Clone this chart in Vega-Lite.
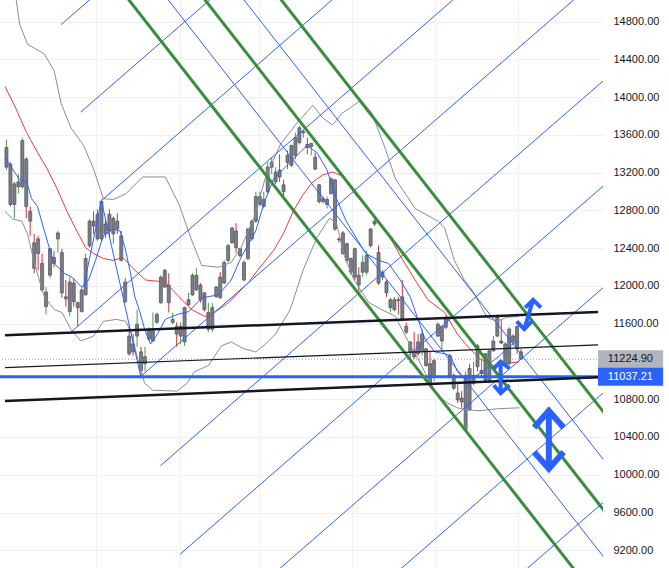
{
  "$schema": "https://vega.github.io/schema/vega-lite/v6.json",
  "width": 603,
  "height": 568,
  "autosize": "none",
  "padding": {"left": 0, "top": 0, "right": 66, "bottom": 0},
  "background": "white",
  "config": {"view": {"stroke": null}, "font": "Liberation Sans"},
  "datasets": {
    "candles": [
      {"i":0,"o":13259,"h":13551,"l":13228,"c":13468},
      {"i":1,"o":13291,"h":13311,"l":12843,"c":12864},
      {"i":2,"o":12864,"h":13103,"l":12718,"c":13082},
      {"i":3,"o":13051,"h":13186,"l":12978,"c":13103},
      {"i":4,"o":13051,"h":13572,"l":13030,"c":13540},
      {"i":5,"o":13343,"h":13364,"l":12718,"c":12843},
      {"i":6,"o":12791,"h":12843,"l":12531,"c":12687},
      {"i":7,"o":12458,"h":12552,"l":12135,"c":12187},
      {"i":8,"o":12499,"h":12531,"l":12167,"c":12343},
      {"i":9,"o":12239,"h":12343,"l":11937,"c":11958},
      {"i":10,"o":11781,"h":11989,"l":11698,"c":11937},
      {"i":11,"o":12114,"h":12406,"l":12083,"c":12395},
      {"i":12,"o":12302,"h":12375,"l":12198,"c":12239},
      {"i":13,"o":12499,"h":12583,"l":12354,"c":12562},
      {"i":14,"o":12354,"h":12395,"l":11875,"c":11927},
      {"i":15,"o":11885,"h":12063,"l":11781,"c":11864},
      {"i":16,"o":11729,"h":12094,"l":11677,"c":12042},
      {"i":17,"o":12031,"h":12083,"l":11781,"c":11833},
      {"i":18,"o":11823,"h":11833,"l":11573,"c":11771},
      {"i":19,"o":11729,"h":11989,"l":11719,"c":11958},
      {"i":20,"o":11906,"h":12343,"l":11900,"c":12291},
      {"i":21,"o":12427,"h":12708,"l":12406,"c":12687},
      {"i":22,"o":12687,"h":12791,"l":12552,"c":12635},
      {"i":23,"o":12760,"h":12812,"l":12479,"c":12499},
      {"i":24,"o":12499,"h":12916,"l":12479,"c":12895},
      {"i":25,"o":12656,"h":12708,"l":12510,"c":12552},
      {"i":26,"o":12760,"h":12812,"l":12510,"c":12583},
      {"i":27,"o":12552,"h":12739,"l":12447,"c":12718},
      {"i":28,"o":12687,"h":12770,"l":12552,"c":12604},
      {"i":29,"o":12531,"h":12583,"l":12260,"c":12271},
      {"i":30,"o":12042,"h":12083,"l":11823,"c":11833},
      {"i":31,"o":11469,"h":11573,"l":11261,"c":11282},
      {"i":32,"o":11386,"h":11490,"l":11261,"c":11302},
      {"i":33,"o":11469,"h":11750,"l":11355,"c":11594},
      {"i":34,"o":11302,"h":11355,"l":11021,"c":11105},
      {"i":35,"o":11177,"h":11355,"l":11094,"c":11250},
      {"i":36,"o":11438,"h":11563,"l":11420,"c":11542},
      {"i":37,"o":11417,"h":11719,"l":11405,"c":11521},
      {"i":38,"o":11615,"h":11719,"l":11600,"c":11698},
      {"i":39,"o":11823,"h":12114,"l":11810,"c":12094},
      {"i":40,"o":12167,"h":12180,"l":11979,"c":11989},
      {"i":41,"o":12010,"h":12135,"l":11719,"c":11823},
      {"i":42,"o":11615,"h":11719,"l":11594,"c":11646},
      {"i":43,"o":11573,"h":11615,"l":11355,"c":11490},
      {"i":44,"o":11469,"h":11615,"l":11386,"c":11573},
      {"i":45,"o":11407,"h":11781,"l":11365,"c":11771},
      {"i":46,"o":11802,"h":11927,"l":11790,"c":11854},
      {"i":47,"o":11906,"h":12135,"l":11895,"c":12114},
      {"i":48,"o":11958,"h":12187,"l":11950,"c":12114},
      {"i":49,"o":12010,"h":12031,"l":11823,"c":11854},
      {"i":50,"o":11927,"h":11935,"l":11729,"c":11750},
      {"i":51,"o":11542,"h":11823,"l":11511,"c":11719},
      {"i":52,"o":11542,"h":11823,"l":11511,"c":11771},
      {"i":53,"o":11885,"h":12000,"l":11875,"c":11989},
      {"i":54,"o":12094,"h":12146,"l":11865,"c":11875},
      {"i":55,"o":12031,"h":12271,"l":12020,"c":12250},
      {"i":56,"o":12271,"h":12447,"l":12250,"c":12427},
      {"i":57,"o":12458,"h":12625,"l":12447,"c":12614},
      {"i":58,"o":12583,"h":12666,"l":12354,"c":12406},
      {"i":59,"o":12395,"h":12406,"l":12302,"c":12323},
      {"i":60,"o":12250,"h":12271,"l":12050,"c":12063},
      {"i":61,"o":12291,"h":12614,"l":12271,"c":12604},
      {"i":62,"o":12499,"h":12708,"l":12479,"c":12687},
      {"i":63,"o":12687,"h":12999,"l":12666,"c":12947},
      {"i":64,"o":12864,"h":12999,"l":12843,"c":12947},
      {"i":65,"o":12843,"h":12999,"l":12822,"c":12916},
      {"i":66,"o":12999,"h":13311,"l":12978,"c":13259},
      {"i":67,"o":13259,"h":13364,"l":13186,"c":13311},
      {"i":68,"o":13103,"h":13259,"l":13082,"c":13207},
      {"i":69,"o":13228,"h":13395,"l":13103,"c":13155},
      {"i":70,"o":13072,"h":13124,"l":12947,"c":12999},
      {"i":71,"o":13311,"h":13436,"l":13239,"c":13384},
      {"i":72,"o":13280,"h":13499,"l":13259,"c":13488},
      {"i":73,"o":13384,"h":13624,"l":13343,"c":13572},
      {"i":74,"o":13520,"h":13697,"l":13499,"c":13676},
      {"i":75,"o":13624,"h":13655,"l":13572,"c":13634},
      {"i":76,"o":13499,"h":13572,"l":13395,"c":13468},
      {"i":77,"o":13478,"h":13520,"l":13384,"c":13509},
      {"i":78,"o":13364,"h":13416,"l":13228,"c":13239},
      {"i":79,"o":13072,"h":13080,"l":12874,"c":12895},
      {"i":80,"o":12926,"h":12947,"l":12874,"c":12895},
      {"i":81,"o":12864,"h":12947,"l":12822,"c":12916},
      {"i":82,"o":12978,"h":13155,"l":12970,"c":13134},
      {"i":83,"o":13124,"h":13134,"l":12583,"c":12604},
      {"i":84,"o":12499,"h":12510,"l":12458,"c":12489},
      {"i":85,"o":12562,"h":12583,"l":12335,"c":12343},
      {"i":86,"o":12447,"h":12458,"l":12250,"c":12271},
      {"i":87,"o":12146,"h":12302,"l":12114,"c":12291},
      {"i":88,"o":12395,"h":12406,"l":12063,"c":12094},
      {"i":89,"o":12114,"h":12198,"l":11927,"c":12010},
      {"i":90,"o":12146,"h":12323,"l":12094,"c":12250},
      {"i":91,"o":12146,"h":12375,"l":12114,"c":12323},
      {"i":92,"o":12427,"h":12614,"l":12406,"c":12604},
      {"i":93,"o":12656,"h":12708,"l":12635,"c":12687},
      {"i":94,"o":12354,"h":12427,"l":12010,"c":12031},
      {"i":95,"o":12094,"h":12167,"l":12063,"c":12146},
      {"i":96,"o":12042,"h":12063,"l":11885,"c":11927},
      {"i":97,"o":11771,"h":11875,"l":11719,"c":11854},
      {"i":98,"o":11750,"h":11885,"l":11729,"c":11854},
      {"i":99,"o":11854,"h":11885,"l":11698,"c":11844},
      {"i":100,"o":11885,"h":12063,"l":11625,"c":11646},
      {"i":101,"o":11573,"h":11615,"l":11490,"c":11511},
      {"i":102,"o":11302,"h":11410,"l":11177,"c":11407},
      {"i":103,"o":11313,"h":11511,"l":11229,"c":11250},
      {"i":104,"o":11407,"h":11490,"l":11261,"c":11282},
      {"i":105,"o":11302,"h":11542,"l":11261,"c":11490},
      {"i":106,"o":11334,"h":11340,"l":11146,"c":11157},
      {"i":107,"o":11177,"h":11313,"l":10960,"c":10969},
      {"i":108,"o":11053,"h":11229,"l":10990,"c":11209},
      {"i":109,"o":11469,"h":11615,"l":11460,"c":11594},
      {"i":110,"o":11417,"h":11580,"l":11313,"c":11573},
      {"i":111,"o":11667,"h":11677,"l":11542,"c":11563},
      {"i":112,"o":11261,"h":11282,"l":11021,"c":11042},
      {"i":113,"o":11053,"h":11073,"l":10900,"c":10917},
      {"i":114,"o":10865,"h":10969,"l":10761,"c":10792},
      {"i":115,"o":10813,"h":10886,"l":10709,"c":10771},
      {"i":116,"o":10480,"h":11094,"l":10470,"c":11053},
      {"i":117,"o":11126,"h":11177,"l":10678,"c":10688},
      {"i":118,"o":10969,"h":11198,"l":10948,"c":11053},
      {"i":119,"o":11365,"h":11386,"l":11094,"c":11146},
      {"i":120,"o":11073,"h":11229,"l":11021,"c":11105},
      {"i":121,"o":11282,"h":11290,"l":10990,"c":11000},
      {"i":122,"o":10990,"h":11334,"l":10969,"c":11313},
      {"i":123,"o":11313,"h":11469,"l":11302,"c":11417},
      {"i":124,"o":11469,"h":11698,"l":11459,"c":11667},
      {"i":125,"o":11417,"h":11646,"l":11386,"c":11396},
      {"i":126,"o":11177,"h":11407,"l":11157,"c":11386},
      {"i":127,"o":11177,"h":11563,"l":11157,"c":11542},
      {"i":128,"o":11469,"h":11490,"l":11386,"c":11407},
      {"i":129,"o":11573,"h":11573,"l":11282,"c":11334},
      {"i":130,"o":11302,"h":11334,"l":11225,"c":11225}
    ],
    "bands": [
      {"s":"upper","i":2.11,"p":15133},{"s":"upper","i":3.36,"p":14769},{"s":"upper","i":5.34,"p":14561},{"s":"upper","i":9.57,"p":14457},
      {"s":"upper","i":12.05,"p":14280},{"s":"upper","i":13.79,"p":13936},{"s":"upper","i":16.28,"p":13676},{"s":"upper","i":19.51,"p":13488},
      {"s":"upper","i":22.0,"p":13239},{"s":"upper","i":24.48,"p":12926},{"s":"upper","i":26.96,"p":12916},{"s":"upper","i":30.19,"p":12978},
      {"s":"upper","i":32.67,"p":13082},{"s":"upper","i":34.41,"p":13155},{"s":"upper","i":40.13,"p":13155},{"s":"upper","i":43.61,"p":12864},
      {"s":"upper","i":46.84,"p":12479},{"s":"upper","i":49.32,"p":12218},{"s":"upper","i":53.54,"p":12198},{"s":"upper","i":56.77,"p":12250},
      {"s":"upper","i":59.26,"p":12406},{"s":"upper","i":62.49,"p":12718},{"s":"upper","i":65.47,"p":13155},{"s":"upper","i":69.2,"p":13499},
      {"s":"upper","i":73.42,"p":13728},{"s":"upper","i":77.4,"p":13915},{"s":"upper","i":79.88,"p":13780},{"s":"upper","i":82.36,"p":13707},
      {"s":"upper","i":84.85,"p":13832},{"s":"upper","i":89.57,"p":13967},{"s":"upper","i":92.3,"p":13832},{"s":"upper","i":95.78,"p":13447},
      {"s":"upper","i":98.27,"p":13134},{"s":"upper","i":103.23,"p":12822},{"s":"upper","i":108.95,"p":12687},{"s":"upper","i":110.69,"p":12614},
      {"s":"upper","i":113.17,"p":12271},{"s":"upper","i":115.66,"p":12063},{"s":"upper","i":118.14,"p":11927},{"s":"upper","i":121.37,"p":11667},
      {"s":"upper","i":123.86,"p":11625},{"s":"upper","i":126.34,"p":11667},{"s":"upper","i":129.32,"p":11677},
      {"s":"lower","i":-0.37,"p":12791},{"s":"lower","i":1.62,"p":12708},{"s":"lower","i":3.85,"p":12687},{"s":"lower","i":5.34,"p":12551},
      {"s":"lower","i":7.08,"p":12239},{"s":"lower","i":8.82,"p":11989},{"s":"lower","i":9.57,"p":11885},{"s":"lower","i":12.05,"p":11750},
      {"s":"lower","i":14.04,"p":11719},{"s":"lower","i":16.28,"p":11542},{"s":"lower","i":18.76,"p":11417},{"s":"lower","i":22.0,"p":11469},
      {"s":"lower","i":24.48,"p":11625},{"s":"lower","i":27.7,"p":11646},{"s":"lower","i":30.19,"p":11625},{"s":"lower","i":31.43,"p":11511},
      {"s":"lower","i":33.17,"p":11229},{"s":"lower","i":34.91,"p":10969},{"s":"lower","i":36.9,"p":10896},{"s":"lower","i":43.11,"p":10886},
      {"s":"lower","i":45.59,"p":10969},{"s":"lower","i":47.58,"p":11094},{"s":"lower","i":51.06,"p":11157},{"s":"lower","i":54.29,"p":11365},
      {"s":"lower","i":56.77,"p":11407},{"s":"lower","i":60.0,"p":11334},{"s":"lower","i":62.98,"p":11302},{"s":"lower","i":65.47,"p":11386},
      {"s":"lower","i":67.95,"p":11490},{"s":"lower","i":71.68,"p":11750},{"s":"lower","i":74.93,"p":12167},{"s":"lower","i":78.39,"p":12510},
      {"s":"lower","i":81.62,"p":12718},{"s":"lower","i":83.36,"p":12666},{"s":"lower","i":85.35,"p":12323},{"s":"lower","i":87.83,"p":12063},
      {"s":"lower","i":91.56,"p":11823},{"s":"lower","i":94.79,"p":11750},{"s":"lower","i":98.27,"p":11677},{"s":"lower","i":100.75,"p":11469},
      {"s":"lower","i":103.98,"p":11229},{"s":"lower","i":106.47,"p":11021},{"s":"lower","i":108.95,"p":10834},{"s":"lower","i":111.43,"p":10761},
      {"s":"lower","i":113.92,"p":10709},{"s":"lower","i":116.4,"p":10688},{"s":"lower","i":119.63,"p":10678},{"s":"lower","i":123.86,"p":10699},
      {"s":"lower","i":129.57,"p":10709},
      {"s":"basis","i":-0.37,"p":14113},{"s":"basis","i":2.11,"p":13905},{"s":"basis","i":5.1,"p":13624},{"s":"basis","i":7.83,"p":13416},
      {"s":"basis","i":10.31,"p":13239},{"s":"basis","i":12.8,"p":13030},{"s":"basis","i":15.28,"p":12791},{"s":"basis","i":17.77,"p":12583},
      {"s":"basis","i":20.0,"p":12406},{"s":"basis","i":22.0,"p":12343},{"s":"basis","i":24.48,"p":12291},{"s":"basis","i":26.96,"p":12271},
      {"s":"basis","i":29.44,"p":12302},{"s":"basis","i":31.93,"p":12187},{"s":"basis","i":35.16,"p":12063},{"s":"basis","i":40.13,"p":12042},
      {"s":"basis","i":43.61,"p":11885},{"s":"basis","i":46.84,"p":11750},{"s":"basis","i":50.07,"p":11677},{"s":"basis","i":52.55,"p":11719},
      {"s":"basis","i":56.03,"p":11823},{"s":"basis","i":58.51,"p":11927},{"s":"basis","i":61.0,"p":12031},{"s":"basis","i":63.48,"p":12167},
      {"s":"basis","i":67.46,"p":12375},{"s":"basis","i":69.94,"p":12552},{"s":"basis","i":72.43,"p":12791},{"s":"basis","i":74.91,"p":12968},
      {"s":"basis","i":77.4,"p":13103},{"s":"basis","i":79.88,"p":13176},{"s":"basis","i":82.36,"p":13207},{"s":"basis","i":84.85,"p":13166},
      {"s":"basis","i":88.33,"p":12957},{"s":"basis","i":92.3,"p":12781},{"s":"basis","i":96.52,"p":12541},{"s":"basis","i":99.75,"p":12302},
      {"s":"basis","i":103.23,"p":12063},{"s":"basis","i":106.46,"p":11854},{"s":"basis","i":110.69,"p":11719},{"s":"basis","i":113.92,"p":11490},
      {"s":"basis","i":116.4,"p":11365},{"s":"basis","i":119.63,"p":11229},{"s":"basis","i":123.11,"p":11157},{"s":"basis","i":126.34,"p":11177},
      {"s":"basis","i":129.57,"p":11198},
      {"s":"ema","i":-0.37,"p":13364},{"s":"ema","i":0.87,"p":13280},{"s":"ema","i":3.36,"p":13124},{"s":"ema","i":5.1,"p":13103},
      {"s":"ema","i":6.34,"p":12926},{"s":"ema","i":7.83,"p":12843},{"s":"ema","i":9.57,"p":12583},{"s":"ema","i":10.81,"p":12406},
      {"s":"ema","i":12.05,"p":12239},{"s":"ema","i":14.54,"p":12135},{"s":"ema","i":16.52,"p":12094},{"s":"ema","i":19.01,"p":11989},
      {"s":"ema","i":20.75,"p":12063},{"s":"ema","i":22.49,"p":12271},{"s":"ema","i":24.48,"p":12531},{"s":"ema","i":26.96,"p":12604},
      {"s":"ema","i":28.7,"p":12583},{"s":"ema","i":29.94,"p":12406},{"s":"ema","i":31.18,"p":12167},{"s":"ema","i":32.43,"p":11885},
      {"s":"ema","i":33.67,"p":11729},{"s":"ema","i":34.91,"p":11542},{"s":"ema","i":36.4,"p":11386},{"s":"ema","i":38.14,"p":11490},
      {"s":"ema","i":40.13,"p":11646},{"s":"ema","i":43.11,"p":11698},{"s":"ema","i":46.09,"p":11729},{"s":"ema","i":49.32,"p":11875},
      {"s":"ema","i":53.54,"p":11906},{"s":"ema","i":56.77,"p":12063},{"s":"ema","i":59.26,"p":12302},{"s":"ema","i":62.98,"p":12583},
      {"s":"ema","i":64.97,"p":12864},{"s":"ema","i":67.46,"p":13134},{"s":"ema","i":71.68,"p":13311},{"s":"ema","i":75.9,"p":13488},
      {"s":"ema","i":78.39,"p":13416},{"s":"ema","i":80.87,"p":13239},{"s":"ema","i":83.36,"p":12926},{"s":"ema","i":85.84,"p":12687},
      {"s":"ema","i":88.33,"p":12510},{"s":"ema","i":90.81,"p":12343},{"s":"ema","i":94.04,"p":12271},{"s":"ema","i":96.52,"p":12239},
      {"s":"ema","i":99.5,"p":12063},{"s":"ema","i":101.99,"p":11885},{"s":"ema","i":103.98,"p":11646},{"s":"ema","i":105.72,"p":11438},
      {"s":"ema","i":108.2,"p":11302},{"s":"ema","i":110.69,"p":11282},{"s":"ema","i":112.18,"p":11261},{"s":"ema","i":113.92,"p":11094},
      {"s":"ema","i":115.66,"p":11021},{"s":"ema","i":118.14,"p":11042},{"s":"ema","i":120.63,"p":11094},{"s":"ema","i":122.62,"p":11198},
      {"s":"ema","i":124.61,"p":11261},{"s":"ema","i":127.1,"p":11365},{"s":"ema","i":129.32,"p":11407}
    ],
    "levels": [
      {"name":"last","p":11224.9},
      {"name":"line","p":11037.21}
    ],
    "draw": [
      {"g":"U1","k":"blue","n":0,"i":13.79,"p":14769},{"g":"U1","k":"blue","n":1,"i":49.32,"p":16060},
      {"g":"U2","k":"blue","n":0,"i":18.76,"p":13842},{"g":"U2","k":"blue","n":1,"i":74.17,"p":15862},
      {"g":"U3","k":"blue","n":0,"i":23.98,"p":12905},{"g":"U3","k":"blue","n":1,"i":99.01,"p":15643},
      {"g":"U4","k":"blue","n":0,"i":16.28,"p":11510},{"g":"U4","k":"blue","n":1,"i":123.86,"p":15435},
      {"g":"U5","k":"blue","n":0,"i":33.92,"p":11042},{"g":"U5","k":"blue","n":1,"i":161.1,"p":15680},
      {"g":"U6","k":"blue","n":0,"i":38.88,"p":10095},{"g":"U6","k":"blue","n":1,"i":161.1,"p":14550},
      {"g":"U7","k":"blue","n":0,"i":43.85,"p":9158},{"g":"U7","k":"blue","n":1,"i":161.1,"p":13436},
      {"g":"U8","k":"blue","n":0,"i":36.9,"p":7836},{"g":"U8","k":"blue","n":1,"i":161.1,"p":12359},
      {"g":"U9","k":"blue","n":0,"i":74.17,"p":8075},{"g":"U9","k":"blue","n":1,"i":161.1,"p":11245},
      {"g":"U10","k":"blue","n":0,"i":111.43,"p":8273},{"g":"U10","k":"blue","n":1,"i":161.1,"p":10084},
      {"g":"Z","k":"blue","n":0,"i":19.51,"p":11989},{"g":"Z","k":"blue","n":1,"i":23.98,"p":12905},{"g":"Z","k":"blue","n":2,"i":33.92,"p":11042},
      {"g":"B1","k":"blue","n":0,"i":34.41,"p":15377},{"g":"B1","k":"blue","n":1,"i":158.6,"p":8714},
      {"g":"B2","k":"blue","n":0,"i":49.32,"p":15604},{"g":"B2","k":"blue","n":1,"i":168.57,"p":9208},
      {"g":"G1","k":"green","n":0,"i":24.48,"p":15377},{"g":"G1","k":"green","n":1,"i":148.7,"p":8714},
      {"g":"G2","k":"green","n":0,"i":36.9,"p":15743},{"g":"G2","k":"green","n":1,"i":168.57,"p":8675},
      {"g":"G3","k":"green","n":0,"i":61.74,"p":15443},{"g":"G3","k":"green","n":1,"i":168.57,"p":9714},
      {"g":"K1","k":"black","n":0,"i":-0.37,"p":11479},{"g":"K1","k":"black","n":1,"i":149.44,"p":11724},
      {"g":"K2","k":"black","n":0,"i":-0.37,"p":10782},{"g":"K2","k":"black","n":1,"i":149.44,"p":11032},
      {"g":"T1","k":"thin","n":0,"i":-0.37,"p":11136},{"g":"T1","k":"thin","n":1,"i":149.44,"p":11375},
      {"g":"C1","k":"arrow","n":0,"i":137.02,"p":10678},{"g":"C1","k":"arrow","n":1,"i":137.02,"p":10064},
      {"g":"C2","k":"arrow","n":0,"i":133.3,"p":10501},{"g":"C2","k":"arrow","n":1,"i":137.02,"p":10678},{"g":"C2","k":"arrow","n":2,"i":140.75,"p":10501},
      {"g":"C3","k":"arrow","n":0,"i":133.3,"p":10240},{"g":"C3","k":"arrow","n":1,"i":137.02,"p":10064},{"g":"C3","k":"arrow","n":2,"i":140.75,"p":10240},
      {"g":"M1","k":"arrowS","n":0,"i":124.85,"p":11198},{"g":"M1","k":"arrowS","n":1,"i":124.85,"p":10865},
      {"g":"M2","k":"arrowS","n":0,"i":123.11,"p":11126},{"g":"M2","k":"arrowS","n":1,"i":124.85,"p":11198},{"g":"M2","k":"arrowS","n":2,"i":127.08,"p":11126},
      {"g":"M3","k":"arrowS","n":0,"i":123.11,"p":10948},{"g":"M3","k":"arrowS","n":1,"i":124.85,"p":10865},{"g":"M3","k":"arrowS","n":2,"i":127.08,"p":10948},
      {"g":"A1","k":"arrowS","n":0,"i":133.05,"p":11854},{"g":"A1","k":"arrowS","n":1,"i":130.81,"p":11542},
      {"g":"A2","k":"arrowS","n":0,"i":131.06,"p":11771},{"g":"A2","k":"arrowS","n":1,"i":133.05,"p":11854},{"g":"A2","k":"arrowS","n":2,"i":135.03,"p":11771},
      {"g":"A3","k":"arrowS","n":0,"i":128.9,"p":11625},{"g":"A3","k":"arrowS","n":1,"i":130.81,"p":11542},{"g":"A3","k":"arrowS","n":2,"i":132.7,"p":11625}
    ]
  },
  "layer": [
    {
      "data": {"name": "candles"},
      "mark": {"type": "rule", "strokeWidth": 1},
      "encoding": {
        "x": {"field": "i", "type": "quantitative", "title": null, "scale": {"domain": [-0.37, 149.44], "nice": false, "zero": false},
          "axis": {"values": [22.74, 43.85, 63.73, 87.33, 108.2, 129.2], "labels": false, "ticks": false, "domain": false, "title": null, "grid": true, "gridColor": "#eef0f4"}},
        "y": {"field": "l", "type": "quantitative", "title": null, "scale": {"domain": [9065, 14977], "nice": false, "zero": false},
          "axis": {"orient": "right", "values": [9200, 9600, 10000, 10400, 10800, 11600, 12000, 12400, 12800, 13200, 13600, 14000, 14400, 14800],
            "format": ".2f", "labelFont": "Liberation Sans", "labelFontSize": 11, "labelColor": "#131722", "labelPadding": 10,
            "labelAlign": "left", "ticks": false, "tickSize": 0, "domain": false, "title": null, "grid": true, "gridColor": "#eef0f4"}},
        "y2": {"field": "h"},
        "color": {"condition": {"test": "datum.c >= datum.o", "value": "#43a047"}, "value": "#d32f2f"}
      }
    },
    {
      "data": {"name": "candles"},
      "mark": {"type": "bar", "width": 3, "fill": "#7b7e88", "stroke": "#4a4d57", "strokeWidth": 0.7},
      "encoding": {
        "x": {"field": "i", "type": "quantitative", "title": null, "scale": {"domain": [-0.37, 149.44], "nice": false, "zero": false}},
        "y": {"field": "o", "type": "quantitative", "title": null, "scale": {"domain": [9065, 14977], "nice": false, "zero": false}},
        "y2": {"field": "c"}
      }
    },
    {
      "data": {"name": "bands"},
      "transform": [{"filter": "datum.s == 'upper' || datum.s == 'lower'"}],
      "mark": {"type": "line", "strokeWidth": 1, "color": "#8a8d96", "clip": true},
      "encoding": {
        "x": {"field": "i", "type": "quantitative", "title": null, "scale": {"domain": [-0.37, 149.44], "nice": false, "zero": false}},
        "y": {"field": "p", "type": "quantitative", "title": null, "scale": {"domain": [9065, 14977], "nice": false, "zero": false}},
        "detail": {"field": "s"}
      }
    },
    {
      "data": {"name": "bands"},
      "transform": [{"filter": "datum.s == 'basis'"}],
      "mark": {"type": "line", "strokeWidth": 1, "color": "#f23645", "clip": true},
      "encoding": {
        "x": {"field": "i", "type": "quantitative", "title": null, "scale": {"domain": [-0.37, 149.44], "nice": false, "zero": false}},
        "y": {"field": "p", "type": "quantitative", "title": null, "scale": {"domain": [9065, 14977], "nice": false, "zero": false}}
      }
    },
    {
      "data": {"name": "bands"},
      "transform": [{"filter": "datum.s == 'ema'"}],
      "mark": {"type": "line", "strokeWidth": 1, "color": "#2962ff", "clip": true},
      "encoding": {
        "x": {"field": "i", "type": "quantitative", "title": null, "scale": {"domain": [-0.37, 149.44], "nice": false, "zero": false}},
        "y": {"field": "p", "type": "quantitative", "title": null, "scale": {"domain": [9065, 14977], "nice": false, "zero": false}}
      }
    },
    {
      "data": {"name": "levels"},
      "transform": [{"filter": "datum.name == 'last'"}],
      "mark": {"type": "rule", "strokeWidth": 1, "color": "#9598a1", "strokeDash": [1, 2]},
      "encoding": {
        "y": {"field": "p", "type": "quantitative", "title": null, "scale": {"domain": [9065, 14977], "nice": false, "zero": false}}
      }
    },
    {
      "data": {"name": "levels"},
      "transform": [{"filter": "datum.name == 'line'"}],
      "mark": {"type": "rule", "strokeWidth": 3, "color": "#2962ff"},
      "encoding": {
        "y": {"field": "p", "type": "quantitative", "title": null, "scale": {"domain": [9065, 14977], "nice": false, "zero": false}}
      }
    },
    {
      "data": {"name": "draw"},
      "transform": [{"filter": "datum.k == 'blue'"}],
      "mark": {"type": "line", "strokeWidth": 1, "color": "#2962ff", "clip": true},
      "encoding": {
        "x": {"field": "i", "type": "quantitative", "title": null, "scale": {"domain": [-0.37, 149.44], "nice": false, "zero": false}},
        "y": {"field": "p", "type": "quantitative", "title": null, "scale": {"domain": [9065, 14977], "nice": false, "zero": false}},
        "detail": {"field": "g"},
        "order": {"field": "n"}
      }
    },
    {
      "data": {"name": "draw"},
      "transform": [{"filter": "datum.k == 'green'"}],
      "mark": {"type": "line", "strokeWidth": 3, "color": "#388e3c", "clip": true},
      "encoding": {
        "x": {"field": "i", "type": "quantitative", "title": null, "scale": {"domain": [-0.37, 149.44], "nice": false, "zero": false}},
        "y": {"field": "p", "type": "quantitative", "title": null, "scale": {"domain": [9065, 14977], "nice": false, "zero": false}},
        "detail": {"field": "g"},
        "order": {"field": "n"}
      }
    },
    {
      "data": {"name": "draw"},
      "transform": [{"filter": "datum.k == 'black'"}],
      "mark": {"type": "line", "strokeWidth": 2.5, "color": "#131722", "clip": true},
      "encoding": {
        "x": {"field": "i", "type": "quantitative", "title": null, "scale": {"domain": [-0.37, 149.44], "nice": false, "zero": false}},
        "y": {"field": "p", "type": "quantitative", "title": null, "scale": {"domain": [9065, 14977], "nice": false, "zero": false}},
        "detail": {"field": "g"},
        "order": {"field": "n"}
      }
    },
    {
      "data": {"name": "draw"},
      "transform": [{"filter": "datum.k == 'thin'"}],
      "mark": {"type": "line", "strokeWidth": 1.2, "color": "#131722", "clip": true},
      "encoding": {
        "x": {"field": "i", "type": "quantitative", "title": null, "scale": {"domain": [-0.37, 149.44], "nice": false, "zero": false}},
        "y": {"field": "p", "type": "quantitative", "title": null, "scale": {"domain": [9065, 14977], "nice": false, "zero": false}},
        "detail": {"field": "g"},
        "order": {"field": "n"}
      }
    },
    {
      "data": {"name": "draw"},
      "transform": [{"filter": "datum.k == 'arrow'"}],
      "mark": {"type": "line", "strokeWidth": 6, "color": "#2962ff", "strokeJoin": "miter", "strokeCap": "butt"},
      "encoding": {
        "x": {"field": "i", "type": "quantitative", "title": null, "scale": {"domain": [-0.37, 149.44], "nice": false, "zero": false}},
        "y": {"field": "p", "type": "quantitative", "title": null, "scale": {"domain": [9065, 14977], "nice": false, "zero": false}},
        "detail": {"field": "g"},
        "order": {"field": "n"}
      }
    },
    {
      "data": {"name": "draw"},
      "transform": [{"filter": "datum.k == 'arrowS'"}],
      "mark": {"type": "line", "strokeWidth": 4, "color": "#2962ff", "strokeJoin": "miter", "strokeCap": "butt"},
      "encoding": {
        "x": {"field": "i", "type": "quantitative", "title": null, "scale": {"domain": [-0.37, 149.44], "nice": false, "zero": false}},
        "y": {"field": "p", "type": "quantitative", "title": null, "scale": {"domain": [9065, 14977], "nice": false, "zero": false}},
        "detail": {"field": "g"},
        "order": {"field": "n"}
      }
    },
    {
      "data": {"name": "levels"},
      "transform": [{"filter": "datum.name == 'last'"}],
      "mark": {"type": "bar", "orient": "horizontal", "height": 18, "color": "#b2b5be"},
      "encoding": {
        "x": {"datum": 149.44, "type": "quantitative", "title": null, "scale": {"domain": [-0.37, 149.44], "nice": false, "zero": false}},
        "x2": {"datum": 165.9},
        "y": {"field": "p", "type": "quantitative", "title": null, "scale": {"domain": [9065, 14977], "nice": false, "zero": false}}
      }
    },
    {
      "data": {"name": "levels"},
      "transform": [{"filter": "datum.name == 'line'"}],
      "mark": {"type": "bar", "orient": "horizontal", "height": 18, "color": "#2962ff"},
      "encoding": {
        "x": {"datum": 149.44, "type": "quantitative", "title": null, "scale": {"domain": [-0.37, 149.44], "nice": false, "zero": false}},
        "x2": {"datum": 165.9},
        "y": {"field": "p", "type": "quantitative", "title": null, "scale": {"domain": [9065, 14977], "nice": false, "zero": false}}
      }
    },
    {
      "data": {"name": "levels"},
      "mark": {"type": "text", "align": "left", "baseline": "middle", "fontSize": 11, "font": "Liberation Sans"},
      "encoding": {
        "x": {"datum": 151.93, "type": "quantitative", "title": null, "scale": {"domain": [-0.37, 149.44], "nice": false, "zero": false}},
        "y": {"field": "p", "type": "quantitative", "title": null, "scale": {"domain": [9065, 14977], "nice": false, "zero": false}},
        "text": {"field": "p", "type": "quantitative", "format": ".2f"},
        "color": {"condition": {"test": "datum.name == 'line'", "value": "#ffffff"}, "value": "#131722"}
      }
    }
  ]
}
